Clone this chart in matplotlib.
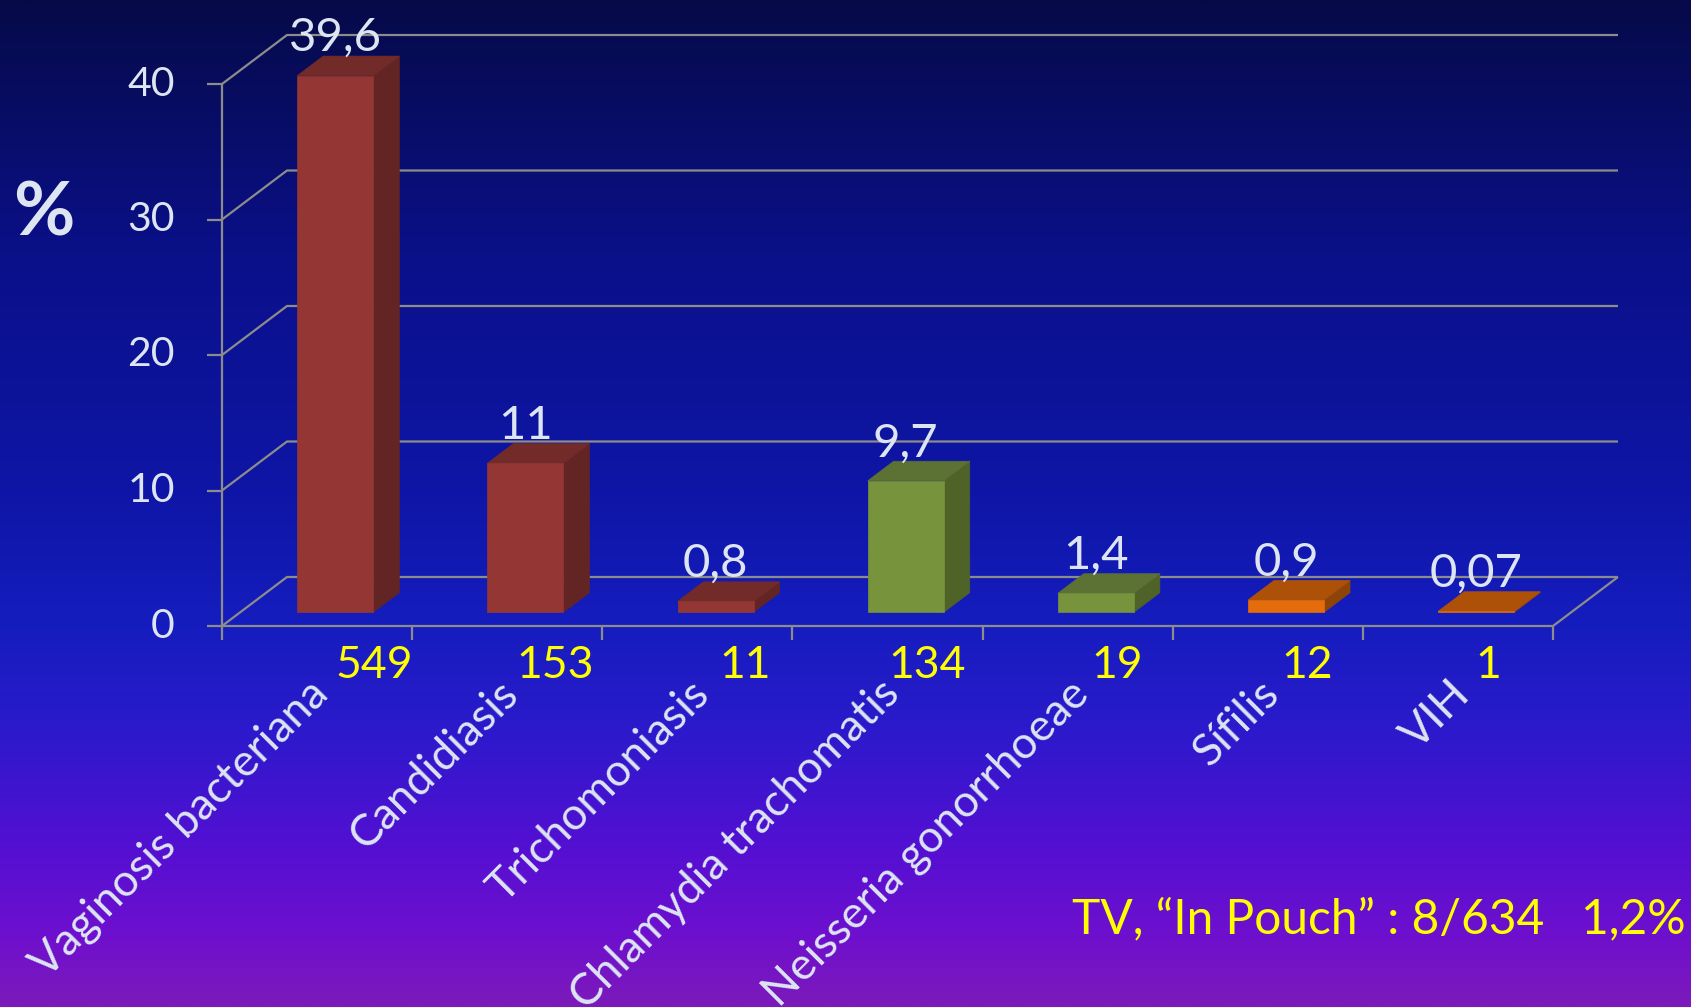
import numpy as np
import matplotlib.pyplot as plt
from matplotlib.colors import LinearSegmentedColormap
from matplotlib.patches import Polygon

plt.rcParams['font.family'] = ['Lato', 'DejaVu Sans']

categories = ['Vaginosis bacteriana', 'Candidiasis', 'Trichomoniasis',
              'Chlamydia trachomatis', 'Neisseria gonorrhoeae', 'Sífilis', 'VIH']
percent = [39.6, 11, 0.8, 9.7, 1.4, 0.9, 0.07]
value_labels = ['39,6', '11', '0,8', '9,7', '1,4', '0,9', '0,07']
counts = ['549', '153', '11', '134', '19', '12', '1']
y_ticks = [0, 10, 20, 30, 40]
note = 'TV, \u201cIn Pouch\u201d : 8/634   1,2%'

# bar face colours (front / side / top)
front_cols = ['#943634', '#943634', '#943634', '#77933C', '#77933C', '#E46C0A', '#E46C0A']
side_cols = ['#632523', '#632523', '#632523', '#4F6228', '#4F6228', '#8E4408', '#8E4408']
top_cols = ['#732B29', '#732B29', '#732B29', '#5C7134', '#5C7134', '#AD5108', '#AD5108']

# layout
TEXT = '#DDE5F3'
YELLOW = '#FFFF00'
GRID = '#8C8C8C'
DEPTH_PX = (65, 49)      # floor depth in pixels (right, up)
BAR_FRONT, BAR_BACK = 0.28, 0.68
BAR_W = 0.4
count_x = [0.80, 1.75, 2.75, 3.71, 4.71, 5.71, 6.66]

W, H = 1691, 1007
fig = plt.figure(figsize=(W / 100, H / 100), dpi=100)

# background gradient
bg = fig.add_axes([0, 0, 1, 1], zorder=-10)
cmap = LinearSegmentedColormap.from_list('bg', [
    (0.0, '#060A48'), (0.25, '#0A1088'), (0.5, '#0F16A8'), (0.62, '#151DBE'),
    (0.72, '#2A1ACB'), (0.84, '#5310D2'), (0.93, '#6E0FCE'), (1.0, '#7C1ABA')])
bg.imshow(np.linspace(0, 1, 512)[:, None], aspect='auto', cmap=cmap,
          extent=[0, 1, 0, 1], interpolation='bilinear')
bg.axis('off')

ax = fig.add_axes([222 / W, 381 / H, 1331 / W, 542 / H])
ax.set_xlim(0, len(categories))
ax.set_ylim(0, 40)
ax.axis('off')

p0 = ax.transData.transform((0, 0))
p1 = ax.transData.transform((1, 1))
ux, uy = p1 - p0
ddx, ddy = DEPTH_PX[0] / ux, DEPTH_PX[1] / uy
n = len(categories)

gkw = dict(color=GRID, lw=1.6, solid_capstyle='butt', zorder=1, clip_on=False)
for t in y_ticks:
    ax.plot([0, ddx, n + ddx], [t, t + ddy, t + ddy], **gkw)
    ax.plot([-15 / ux, 0], [t, t], **gkw)
    ax.text(-47 / ux, t, str(t), ha='right', va='center', fontsize=29.5, color=TEXT)
ax.plot([0, 0], [-14 / uy, 40], **gkw)
ax.plot([0, n, n + ddx], [0, 0, ddy], **gkw)
for i in range(1, n + 1):
    ax.plot([i, i], [-14 / uy, 0], **gkw)

# bars
bx = (BAR_BACK - BAR_FRONT) * ddx
by = (BAR_BACK - BAR_FRONT) * ddy
for i, v in enumerate(percent):
    x0 = i + 0.5 - BAR_W / 2 + BAR_FRONT * ddx
    x1 = x0 + BAR_W
    y0 = BAR_FRONT * ddy
    faces = [
        ([(x1, y0), (x1 + bx, y0 + by), (x1 + bx, y0 + by + v), (x1, y0 + v)], side_cols[i]),
        ([(x0, y0 + v), (x1, y0 + v), (x1 + bx, y0 + v + by), (x0 + bx, y0 + v + by)], top_cols[i]),
        ([(x0, y0), (x1, y0), (x1, y0 + v), (x0, y0 + v)], front_cols[i]),
    ]
    for pts, c in faces:
        ax.add_patch(Polygon(pts, closed=True, fc=c, ec=c, lw=0.5, zorder=3, clip_on=False))
    ax.text(x0 + BAR_W / 2, y0 + by + v + 5 / uy, value_labels[i], ha='center',
            va='baseline', fontsize=34, color=TEXT, zorder=5)

    ax.text(count_x[i], -40 / uy, counts[i], ha='center', va='center',
            fontsize=32, color=YELLOW)
    ax.text(i + 0.45, -47 / uy, categories[i], rotation=45, rotation_mode='anchor',
            ha='right', va='top', fontsize=32, color=TEXT)

fig.text(44 / W, 1 - 214 / H, '%', ha='center', va='center', fontsize=54,
         fontweight='bold', color=TEXT)
fig.text(1686 / W, 1 - 919 / H, note, ha='right', va='center', fontsize=34.5, color=YELLOW)

fig.savefig('out.png', dpi=100)
